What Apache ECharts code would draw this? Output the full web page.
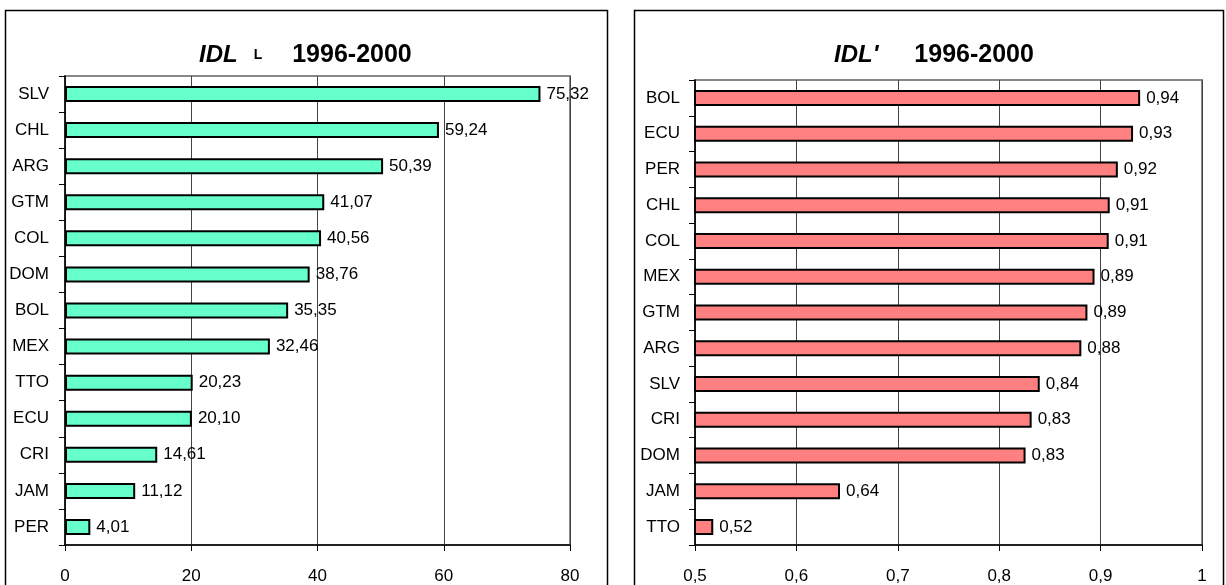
<!DOCTYPE html>
<html>
<head>
<meta charset="utf-8">
<script src="https://cdn.jsdelivr.net/npm/echarts@6/dist/echarts.min.js"></script>
<style>
html,body{margin:0;padding:0;background:#fff;}
#c{width:1226px;height:585px;}
</style>
</head>
<body>
<div id="c"></div>
<script>
// Left chart: IDL L 1996-2000
const leftCategories = ['SLV','CHL','ARG','GTM','COL','DOM','BOL','MEX','TTO','ECU','CRI','JAM','PER'];
const leftValues = [75.32, 59.24, 50.39, 41.07, 40.56, 38.76, 35.35, 32.46, 20.23, 20.10, 14.61, 11.12, 4.01];
const leftTicks = ['0','20','40','60','80'];

// Right chart: IDL' 1996-2000
const rightCategories = ['BOL','ECU','PER','CHL','COL','MEX','GTM','ARG','SLV','CRI','DOM','JAM','TTO'];
const rightValues = [0.939, 0.932, 0.917, 0.909, 0.908, 0.894, 0.887, 0.881, 0.840, 0.832, 0.826, 0.643, 0.518];
const rightTicks = ['0,5','0,6','0,7','0,8','0,9','1'];

const FONT = '"Liberation Sans", Arial, sans-serif';
const FS = 17;
const fmt = v => v.toFixed(2).replace('.', ',');
const tickFmt = v => String(+v.toFixed(2)).replace('.', ',');

const chart = echarts.init(document.getElementById('c'), null, {renderer: 'canvas'});

function yAxis(idx, cats, margin) {
  return {
    type: 'category', gridIndex: idx, data: cats, inverse: true,
    axisLine: {show: true, lineStyle: {color: '#000', width: 1.5}},
    axisTick: {show: true, length: 6, lineStyle: {color: '#000', width: 1}},
    axisLabel: {color: '#000', fontSize: FS, fontFamily: FONT, margin: margin},
    splitLine: {show: false}
  };
}
function xAxis(idx, min, max, interval) {
  return {
    type: 'value', gridIndex: idx, min: min, max: max, interval: interval,
    axisLine: {show: true, lineStyle: {color: '#000', width: 1.5}},
    axisTick: {show: true, length: 6, lineStyle: {color: '#000', width: 1}},
    axisLabel: {color: '#000', fontSize: FS, fontFamily: FONT, margin: 23, formatter: tickFmt},
    splitLine: {show: true, lineStyle: {color: '#444', width: 1}}
  };
}
function barSeries(idx, vals, color) {
  return {
    type: 'bar', xAxisIndex: idx, yAxisIndex: idx, data: vals,
    barWidth: 16, clip: true,
    itemStyle: {color: color, borderColor: '#000', borderWidth: 2},
    label: {show: true, position: 'right', distance: 6, color: '#000', fontSize: FS, fontFamily: FONT,
      formatter: p => fmt(p.value)},
    animation: false
  };
}

const titleRich = {
  a: {fontSize: 24, fontWeight: 'bold', fontStyle: 'italic', fontFamily: FONT, color: '#000'},
  b: {fontSize: 14, fontWeight: 'bold', fontFamily: FONT, color: '#000'},
  c: {fontSize: 25, fontWeight: 'bold', fontFamily: FONT, color: '#000'},
  s1: {width: 16},
  s2: {width: 30},
  s3: {width: 36}
};

chart.setOption({
  animation: false,
  backgroundColor: '#fff',
  title: [
    {left: 194, top: 38, text: '{a|IDL}{s1|}{b|L}{s2|}{c|1996-2000}', textStyle: {rich: titleRich}},
    {left: 829, top: 38, text: "{a|IDL'}{s3|}{c|1996-2000}", textStyle: {rich: titleRich}}
  ],
  grid: [
    {left: 65, right: 656, top: 76, bottom: 40, show: true, borderColor: '#888', borderWidth: 2, backgroundColor: 'transparent'},
    {left: 695, right: 24, top: 80, bottom: 40, show: true, borderColor: '#888', borderWidth: 2, backgroundColor: 'transparent'}
  ],
  xAxis: [xAxis(0, 0, 80, 20), xAxis(1, 0.5, 1, 0.1)],
  yAxis: [yAxis(0, leftCategories, 16), yAxis(1, rightCategories, 15)],
  series: [barSeries(0, leftValues, '#66FFCC'), barSeries(1, rightValues, '#FF8080')],
  graphic: [
    {type: 'rect', silent: true, shape: {x: 5.5, y: 10.5, width: 602, height: 600},
      style: {fill: 'none', stroke: '#000', lineWidth: 1.5}},
    {type: 'rect', silent: true, shape: {x: 634.5, y: 10.5, width: 589, height: 600},
      style: {fill: 'none', stroke: '#000', lineWidth: 1.5}}
  ]
});
</script>
</body>
</html>
